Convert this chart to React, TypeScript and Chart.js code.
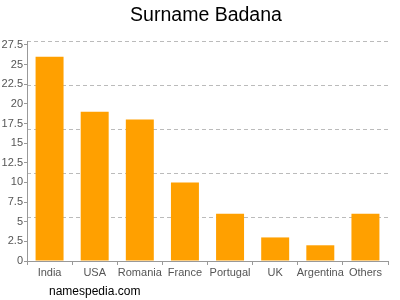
import React, { useEffect, useRef } from "react";
import { Chart, registerables } from "chart.js";

Chart.register(...registerables);

const categories = ["India", "USA", "Romania", "France", "Portugal", "UK", "Argentina", "Others"];
const values = [26, 19, 18, 10, 6, 3, 2, 6];
const yMax = 28;
const yTickValues = [0, 2.5, 5, 7.5, 10, 12.5, 15, 17.5, 20, 22.5, 25, 27.5];
const gridValues = [5.6, 11.2, 16.8, 22.4, 28];
const titleText = "Surname Badana";
const footerText = "namespedia.com";

const FONT = "'Liberation Sans', Arial, sans-serif";

export default function App() {
  const ref = useRef<HTMLCanvasElement | null>(null);
  useEffect(() => {
    if (!ref.current) return;
    const textPlugin = {
      id: "texts",
      afterDraw(chart: any) {
        const ctx = chart.ctx;
        ctx.save();
        ctx.fillStyle = "#000";
        ctx.textAlign = "center";
        ctx.textBaseline = "alphabetic";
        ctx.font = `19.5px ${FONT}`;
        ctx.fillText(titleText, 206, 21);
        ctx.textAlign = "left";
        ctx.font = `12px ${FONT}`;
        ctx.fillText(footerText, 49, 295);
        ctx.restore();
      },
    };
    const chart = new Chart(ref.current, {
      type: "bar",
      data: {
        labels: categories,
        datasets: [
          {
            data: values,
            backgroundColor: "#ffa000",
            borderWidth: 0,
            barPercentage: 0.62,
            categoryPercentage: 1,
            yAxisID: "y",
          },
        ],
      },
      options: {
        animation: false,
        responsive: false,
        maintainAspectRatio: false,
        layout: { padding: { top: 41, left: 0, right: 12, bottom: 19 } },
        plugins: { legend: { display: false }, tooltip: { enabled: false }, title: { display: false } },
        scales: {
          x: {
            offset: true,
            grid: { drawOnChartArea: false, tickLength: 4, color: "#999" },
            border: { color: "#999" },
            ticks: { color: "#555", font: { family: FONT, size: 11 }, padding: 1, maxRotation: 0, autoSkip: false },
            afterFit: (s: any) => { s.height = 20; },
          },
          y: {
            min: 0,
            max: yMax,
            position: "left",
            grid: { drawOnChartArea: false, tickLength: 3, color: "#999" },
            border: { color: "#999" },
            ticks: { color: "#555", font: { family: FONT, size: 11 }, padding: 1, autoSkip: false },
            afterBuildTicks: (s: any) => {
              s.ticks = yTickValues.map((v) => ({ value: v }));
            },
            afterFit: (s: any) => { s.width = 27; },
          },
          y2: {
            min: 0,
            max: yMax,
            position: "right",
            grid: { drawTicks: false, color: "#bbb" },
            border: { display: false, dash: [4, 3] },
            ticks: { display: false },
            afterBuildTicks: (s: any) => {
              s.ticks = gridValues.map((v) => ({ value: v }));
            },
            afterFit: (s: any) => { s.width = 0; },
          },
        },
      } as any,
      plugins: [textPlugin],
    });
    return () => chart.destroy();
  }, []);
  return (
    <div style={{ position: "fixed", left: 0, top: 0, width: 400, height: 300, background: "#fff" }}>
      <canvas ref={ref} width={400} height={300} style={{ width: 400, height: 300 }} />
    </div>
  );
}
